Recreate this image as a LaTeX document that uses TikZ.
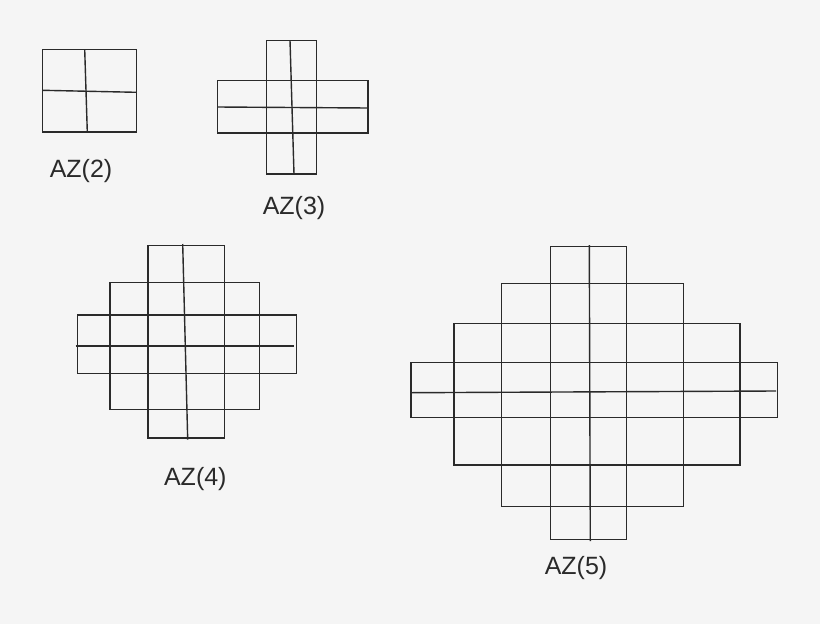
\documentclass[tikz,border=0pt]{standalone}
\usepackage{fontspec}
\setmainfont{Liberation Sans}
\usetikzlibrary{positioning}
\definecolor{bgGray}{HTML}{F5F5F5}
\definecolor{lineGray}{HTML}{2A2A2A}

\begin{document}
\begin{tikzpicture}[
    x=1pt, y=-1pt, % 一單位 = 一像素, y 向下
    grid/.style={draw=lineGray, line width=1.4pt},
    lbl/.style={font=\fontsize{25}{30}\selectfont, text=lineGray, anchor=base, inner sep=0pt}
]

    % --- 1. 背景 (Background) ---
    \fill[bgGray] (0,0) rectangle (820,624);
    \useasboundingbox (0,0) rectangle (820,624);

    % 定義一個 macro 來畫 Aztec diamond (一層一層的矩形)
    \newcommand{\drawAztec}[1]{
        % 參數 #1: 矩形列表 x1/y1/x2/y2
        \foreach \xa/\ya/\xb/\yb in {#1} {
            \draw[grid] (\xa,\ya) rectangle (\xb,\yb);
        }
    }

    % --- 2. AZ(2) ---
    \drawAztec{42.7/49.3/136.3/132}
    \draw[grid] (84.7,49.3) -- (87.3,132);   % 中間直線
    \draw[grid] (42.7,90.3) -- (136.3,92.3); % 中間橫線
    \node[lbl] (lbl_az2) at (81,177.3) {AZ(2)};

    % --- 3. AZ(3) ---
    \drawAztec{266.3/40.3/316.3/174, 217.3/80.7/368/133}
    \draw[grid] (290,40.3) -- (294,174);
    \draw[grid] (217.3,107) -- (368,108);
    \node[lbl] (lbl_az3) at (294,214) {AZ(3)};

    % --- 4. AZ(4) ---
    \drawAztec{148/245.3/224.3/438, 110/282.3/259.3/409.3, 77.7/315/296.7/373.3}
    \draw[grid] (182.7,244) -- (187.7,439.7);
    \draw[grid] (75.7,346) -- (294,346);
    \node[lbl] (lbl_az4) at (195.3,485) {AZ(4)};

    % --- 5. AZ(5) ---
    \drawAztec{550.7/246.3/626.3/539.3, 501.7/283.3/683.7/506.7,
               454/323.3/740/465, 411/362.3/777.3/417.3}
    \draw[grid] (589.3,245) -- (590.3,541);
    \draw[grid] (411.7,392.7) -- (776,391);
    \node[lbl] (lbl_az5) at (576,574) {AZ(5)};

\end{tikzpicture}
\end{document}
